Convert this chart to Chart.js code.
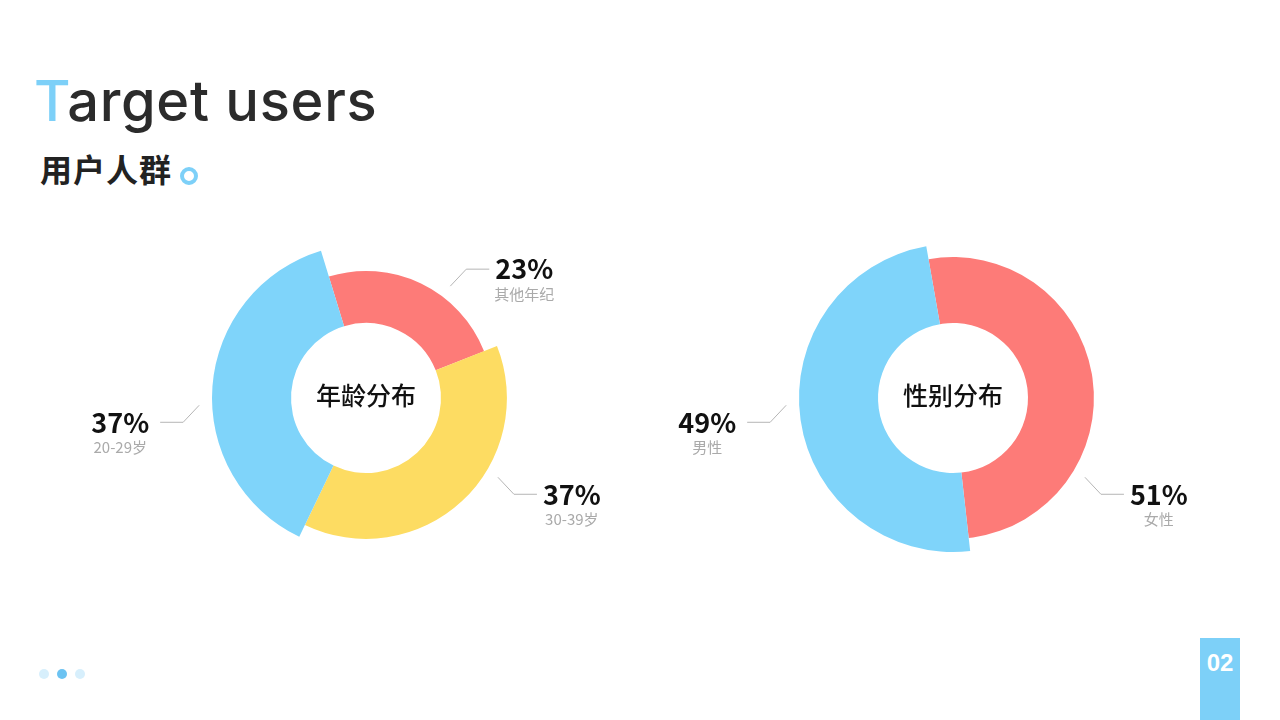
<!DOCTYPE html>
<html>
<head>
<meta charset="utf-8">
<script src="https://cdn.jsdelivr.net/npm/chart.js@4.4.0/dist/chart.umd.min.js"></script>
<style>
body{margin:0;width:1280px;height:720px;background:#fff;overflow:hidden;position:relative;font-family:'Noto Sans CJK SC',sans-serif}
.title{position:absolute;left:34px;top:66px;font-family:Inter,sans-serif;font-weight:500;font-size:56px;line-height:70px;color:#2b2b2b;letter-spacing:0.7px;white-space:nowrap}
.title span{color:#7dd0f8}
.sub{position:absolute;left:40px;top:146px;font-family:'Noto Sans CJK SC';font-weight:bold;font-size:32px;line-height:44px;color:#222;letter-spacing:1px}
.ring{position:absolute;left:180px;top:167px;width:10px;height:10px;border:4px solid #7dd0f8;border-radius:50%}
.box{position:absolute;top:220px;width:560px;height:356px}
.dot{position:absolute;top:669px;width:10px;height:10px;border-radius:50%;background:#d7effc}
.page{position:absolute;left:1200px;top:638px;width:40px;height:82px;background:#7dd0f8;color:#fff;font-family:'Liberation Sans',sans-serif;font-weight:bold;font-size:24px;text-align:center;line-height:50px}
</style>
</head>
<body>
<div class="title"><span>T</span>arget users</div>
<div class="sub">用户人群</div>
<div class="ring"></div>
<div class="box" style="left:86px"><canvas id="age"></canvas></div>
<div class="box" style="left:673px"><canvas id="gender"></canvas></div>
<div class="dot" style="left:39px"></div>
<div class="dot" style="left:57px;background:#6cc3f2"></div>
<div class="dot" style="left:75px"></div>
<div class="page">02</div>
<script>
// age distribution (%), clockwise from top
var ageLabels = ['其他年纪', '30-39岁', '20-29岁'];
var ageValues = [23, 37, 37];
// gender distribution (%)
var genderLabels = ['女性', '男性'];
var genderValues = [51, 49];

var RED = '#fd7b78', YELLOW = '#fddc62', BLUE = '#7fd4fa';

// per-slice outer radius + callout labels
var calloutPlugin = {
    id: 'callout',
    afterDatasetsUpdate: function (chart, args, opts) {
        var meta = chart.getDatasetMeta(0);
        var full = meta.controller.outerRadius;
        meta.data.forEach(function (arc, i) {
            arc.outerRadius = full * opts.radiusScale[i];
        });
    },
    afterDraw: function (chart, args, opts) {
        var ctx = chart.ctx;
        var meta = chart.getDatasetMeta(0);
        var values = chart.data.datasets[0].data;
        var labels = chart.data.labels;
        var cx = meta.data[0].x, cy = meta.data[0].y;
        ctx.save();
        ctx.textBaseline = 'middle';
        ctx.textAlign = 'center';
        ctx.fillStyle = '#111';
        ctx.font = '500 25px "Noto Sans CJK SC"';
        ctx.fillText(opts.centerText, cx, cy - 3);

        meta.data.forEach(function (arc, i) {
            var a = (opts.anchorAngles[i] - 90) * Math.PI / 180;
            var r = arc.outerRadius + 13;
            var x0 = cx + Math.cos(a) * r, y0 = cy + Math.sin(a) * r;
            var sx = Math.cos(a) >= 0 ? 1 : -1;
            var sy = y0 < cy - 20 ? -1 : 1;
            var x1 = x0 + sx * 16, y1 = y0 + sy * 17;
            var x2 = x1 + sx * 23;
            ctx.strokeStyle = '#b5b5b5';
            ctx.lineWidth = 1;
            ctx.beginPath();
            ctx.moveTo(x0, y0);
            ctx.lineTo(x1, y1);
            ctx.lineTo(x2, y1);
            ctx.stroke();

            var txt = values[i] + '%';
            ctx.font = 'bold 27px "Noto Sans CJK SC"';
            var w = ctx.measureText(txt).width;
            var left = sx > 0 ? x2 + 6 : x2 - 11 - w;
            ctx.textAlign = 'left';
            ctx.fillStyle = '#111';
            ctx.fillText(txt, left, y1);
            ctx.textAlign = 'center';
            ctx.fillStyle = '#aaa';
            ctx.font = '15px "Noto Sans CJK SC"';
            ctx.fillText(labels[i], left + w / 2, y1 + 25);
        });
        ctx.restore();
    }
};

function donut(id, labels, values, colors, rotation, radiusScale, anchorAngles, centerText) {
    return new Chart(document.getElementById(id), {
        type: 'doughnut',
        data: {
            labels: labels,
            datasets: [{
                data: values,
                backgroundColor: colors,
                borderWidth: 0
            }]
        },
        options: {
            responsive: true,
            maintainAspectRatio: false,
            animation: false,
            events: [],
            rotation: rotation,
            cutout: '48.7%',
            layout: { padding: { top: 24, bottom: 24 } },
            plugins: {
                legend: { display: false },
                tooltip: { enabled: false },
                callout: {
                    radiusScale: radiusScale,
                    anchorAngles: anchorAngles,
                    centerText: centerText
                }
            }
        },
        plugins: [calloutPlugin]
    });
}

donut('age', ageLabels, ageValues, [RED, YELLOW, BLUE], -17,
      [0.825, 0.915, 1], [37, 121, 267.5], '年龄分布');
donut('gender', genderLabels, genderValues, [RED, BLUE], -10,
      [0.915, 1], [121, 267.5], '性别分布');
</script>
</body>
</html>
